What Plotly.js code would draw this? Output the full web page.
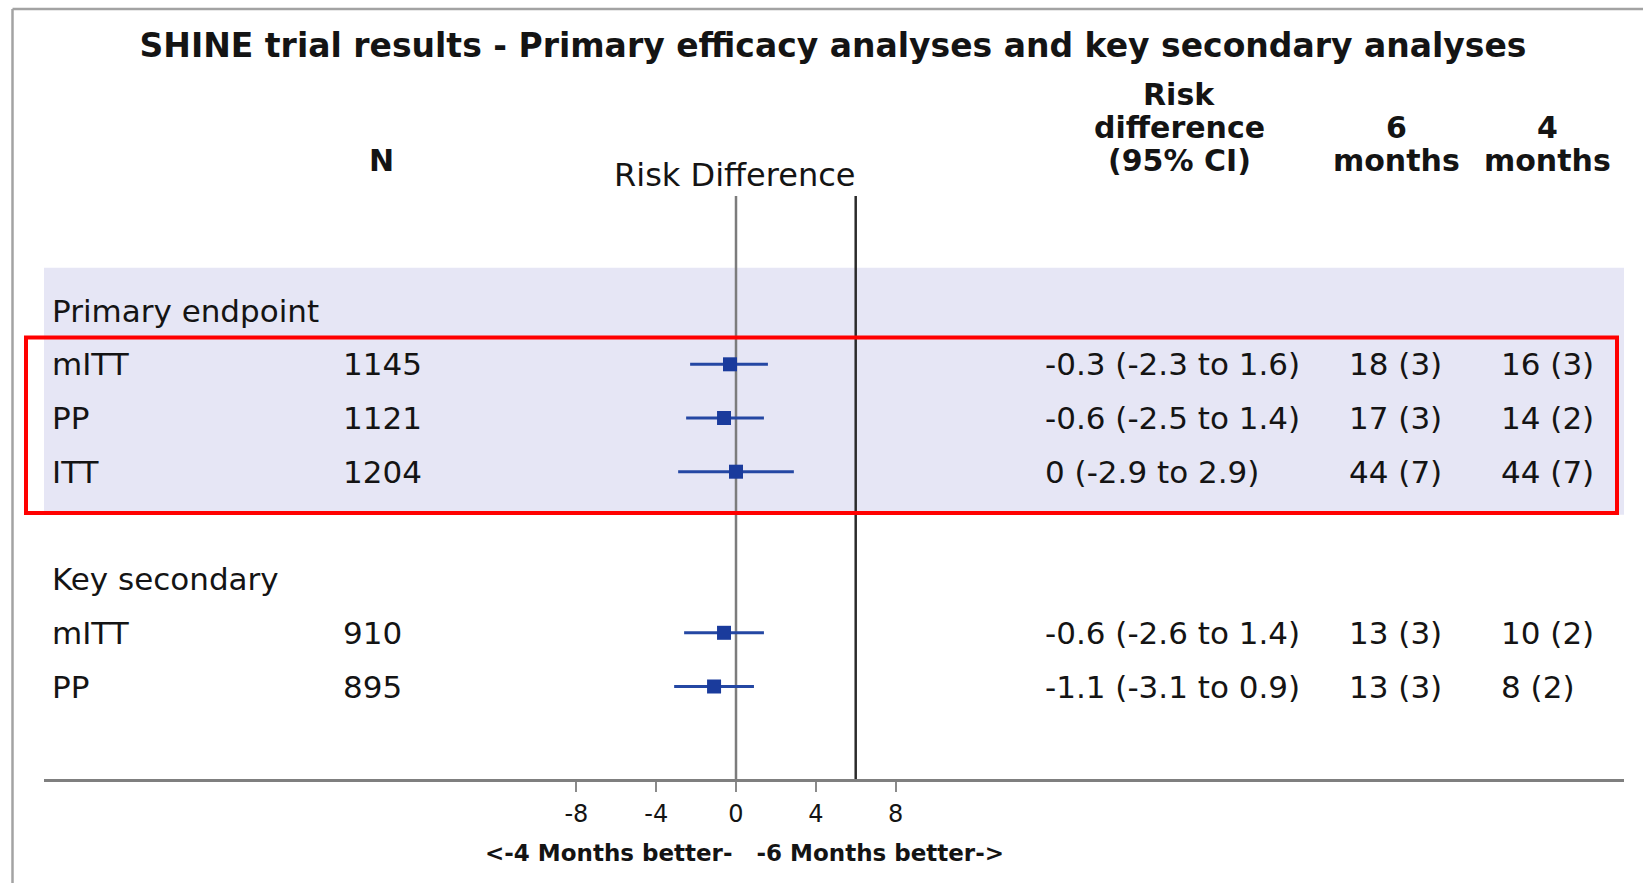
<!DOCTYPE html>
<html>
<head>
<meta charset="utf-8">
<script src="https://cdn.plot.ly/plotly-3.0.1.min.js"></script>
<style>
  html, body { margin: 0; padding: 0; background: #ffffff; }
  #chart { width: 1643px; height: 883px; }
</style>
</head>
<body>
<div id="chart"></div>
<script>
// ---------------- DATA ----------------
const chartTitle = 'SHINE trial results - Primary efficacy analyses and key secondary analyses';
const groupNames = ['Primary endpoint', 'Key secondary'];
const analyses   = ['mITT', 'PP', 'ITT', 'mITT', 'PP'];
const groupIndex = [0, 0, 0, 1, 1];
const nValues    = [1145, 1121, 1204, 910, 895];
const riskDiff   = [-0.3, -0.6, 0, -0.6, -1.1];
const ciLow      = [-2.3, -2.5, -2.9, -2.6, -3.1];
const ciHigh     = [1.6, 1.4, 2.9, 1.4, 0.9];
const events6    = [18, 17, 44, 13, 13];
const pct6       = [3, 3, 7, 3, 3];
const events4    = [16, 14, 44, 10, 8];
const pct4       = [3, 2, 7, 2, 2];
const tickValues = [-8, -4, 0, 4, 8];
const nonInferiorityMargin = 6;
const headerN    = 'N';
const headerPlot = 'Risk Difference';
const headerCI   = ['Risk', 'difference', '(95% CI)'];
const header6    = ['6', 'months'];
const header4    = ['4', 'months'];
const axisNote   = '<-4 Months better-\u00a0\u00a0 -6 Months better->';

// ---------------- ROW LAYOUT ----------------
const groupRow = [];
const itemRow = [];
let r = 0;
groupNames.forEach((g, gi) => {
  if (gi > 0) r += 1;
  groupRow.push(r); r += 1;
  analyses.forEach((a, i) => { if (groupIndex[i] === gi) { itemRow[i] = r; r += 1; } });
});

// ---------------- GEOMETRY ----------------
const W = 1643, H = 883;
const L = 44, R = 19, T = 196, B = 104;
const plotW = W - L - R, plotH = H - T - B;
const px = x => (x - L) / plotW;
const py = y => (H - B - y) / plotH;

const FONT = 'DejaVu Sans';
const TXT = '#141414';
const rowFont = { family: FONT, size: 31, color: TXT };
const headFont = { family: FONT, size: 30, color: TXT, weight: 'bold' };
const annotations = [];

annotations.push({ text: headerN, x: px(381), y: py(160), xref: 'paper', yref: 'paper',
  xanchor: 'center', yanchor: 'middle', showarrow: false, font: headFont });
annotations.push({ text: headerPlot, x: px(734), y: py(175), xref: 'paper', yref: 'paper',
  xanchor: 'center', yanchor: 'middle', showarrow: false,
  font: { family: FONT, size: 32, color: TXT } });
const ciHeadY = [95, 128, 161];
headerCI.forEach((t, i) => annotations.push({ text: t, x: px(1179), y: py(ciHeadY[i]),
  xref: 'paper', yref: 'paper', xanchor: 'center', yanchor: 'middle', showarrow: false, font: headFont }));
header6.forEach((t, i) => annotations.push({ text: t, x: px(1396), y: py(ciHeadY[i + 1]),
  xref: 'paper', yref: 'paper', xanchor: 'center', yanchor: 'middle', showarrow: false, font: headFont }));
header4.forEach((t, i) => annotations.push({ text: t, x: px(1547), y: py(ciHeadY[i + 1]),
  xref: 'paper', yref: 'paper', xanchor: 'center', yanchor: 'middle', showarrow: false, font: headFont }));

groupNames.forEach((g, gi) => annotations.push({ text: g, x: px(50), y: groupRow[gi],
  xref: 'paper', yref: 'y', xanchor: 'left', yanchor: 'middle', showarrow: false, font: rowFont }));

analyses.forEach((a, i) => {
  const y = itemRow[i];
  const common = { xref: 'paper', yref: 'y', xanchor: 'left', yanchor: 'middle', showarrow: false, font: rowFont };
  annotations.push(Object.assign({ text: a, x: px(50), y: y }, common));
  annotations.push(Object.assign({ text: String(nValues[i]), x: px(341), y: y }, common));
  annotations.push(Object.assign({ text: `${riskDiff[i]} (${ciLow[i]} to ${ciHigh[i]})`, x: px(1043), y: y }, common));
  annotations.push(Object.assign({ text: `${events6[i]} (${pct6[i]})`, x: px(1347), y: y }, common));
  annotations.push(Object.assign({ text: `${events4[i]} (${pct4[i]})`, x: px(1499), y: y }, common));
});

annotations.push({ text: axisNote, x: px(744), y: py(853), xref: 'paper', yref: 'paper',
  xanchor: 'center', yanchor: 'middle', showarrow: false,
  font: { family: FONT, size: 23, color: TXT, weight: 'bold' } });

// ---------------- SHAPES ----------------
const firstItem = itemRow[groupIndex.indexOf(0)];
const lastItem = itemRow[groupIndex.lastIndexOf(0)];
const shapes = [
  { type: 'rect', xref: 'paper', yref: 'y', x0: 0, x1: 1, y0: groupRow[0] - 0.8, y1: lastItem + 0.8,
    fillcolor: '#e6e6f5', line: { width: 0 }, layer: 'below' },
  { type: 'line', xref: 'x', yref: 'paper', x0: 0, x1: 0, y0: 0, y1: 1,
    line: { color: '#7c7c7c', width: 2.5 }, layer: 'below' },
  { type: 'line', xref: 'x', yref: 'paper', x0: nonInferiorityMargin, x1: nonInferiorityMargin, y0: 0, y1: 1,
    line: { color: '#2b2b2b', width: 2.5 }, layer: 'below' },
  { type: 'rect', xref: 'paper', yref: 'y', x0: px(26), x1: px(1617), y0: firstItem - 0.5, y1: lastItem + 0.77,
    fillcolor: 'rgba(0,0,0,0)', line: { color: '#ff0000', width: 4 } },
  { type: 'line', xref: 'paper', yref: 'paper', x0: px(12.5), x1: px(1643), y0: py(9), y1: py(9),
    line: { color: '#a3a3a3', width: 2.5 } },
  { type: 'line', xref: 'paper', yref: 'paper', x0: px(12.5), x1: px(12.5), y0: py(9), y1: py(883),
    line: { color: '#a3a3a3', width: 2.5 } }
];

// ---------------- TRACE ----------------
const trace = {
  type: 'scatter', mode: 'markers',
  x: riskDiff,
  y: itemRow,
  error_x: {
    type: 'data', symmetric: false,
    array: ciHigh.map((h, i) => h - riskDiff[i]),
    arrayminus: ciLow.map((l, i) => riskDiff[i] - l),
    color: '#2447a3', thickness: 3, width: 0
  },
  marker: { symbol: 'square', size: 14, color: '#1a3b9c' },
  hoverinfo: 'skip', showlegend: false, cliponaxis: false
};

const zeroPx = 736, pxPerUnit = 19.95;
const xr = [-(zeroPx - L) / pxPerUnit, (L + plotW - zeroPx) / pxPerUnit];
const row0Px = 310.6, pxPerRow = 53.7;
const yr = [(H - B - row0Px) / pxPerRow, (T - row0Px) / pxPerRow];

const layout = {
  width: W, height: H,
  margin: { l: L, r: R, t: T, b: B, pad: 0 },
  paper_bgcolor: '#ffffff', plot_bgcolor: 'rgba(0,0,0,0)',
  title: { text: chartTitle, x: 833 / W, xanchor: 'center', y: 1 - 45 / H, yanchor: 'middle',
    font: { family: FONT, size: 33, color: TXT, weight: 'bold' } },
  xaxis: {
    range: xr, tickmode: 'array', tickvals: tickValues, ticktext: tickValues.map(String),
    showgrid: false, zeroline: false, showline: true, linecolor: '#7f7f7f', linewidth: 2.5,
    ticks: 'outside', ticklen: 10, tickwidth: 2, tickcolor: '#8a8a8a', ticklabelstandoff: 2,
    tickfont: { family: FONT, size: 24, color: TXT }, fixedrange: true
  },
  yaxis: { range: yr, visible: false, showgrid: false, zeroline: false, fixedrange: true },
  annotations: annotations,
  shapes: shapes,
  showlegend: false
};

Plotly.newPlot('chart', [trace], layout, { displayModeBar: false, staticPlot: true });
</script>
</body>
</html>
